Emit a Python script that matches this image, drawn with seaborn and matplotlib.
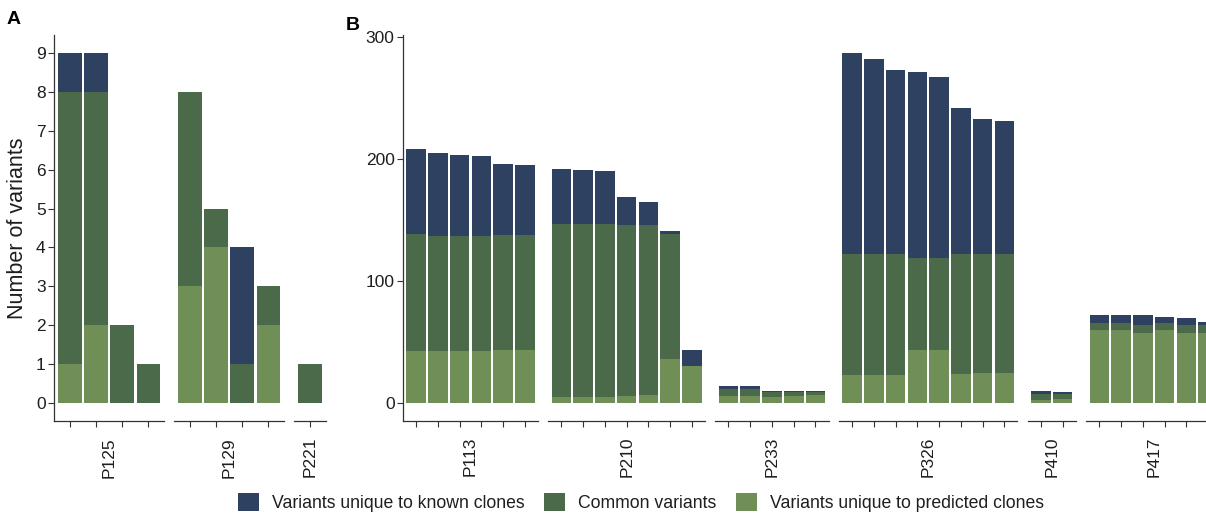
import numpy as np
import matplotlib
matplotlib.use("Agg")
import matplotlib.pyplot as plt
from matplotlib.patches import Patch
from matplotlib import font_manager
import seaborn as sns

# ---- data -------------------------------------------------------------
series_labels = ["Variants unique to known clones", "Common variants",
                 "Variants unique to predicted clones"]

a_patients = ["P125", "P129", "P221"]
a_predicted = [[1, 2, 0, 0], [3, 4, 0, 2], [0]]
a_common = [[7, 6, 2, 1], [5, 1, 1, 1], [1]]
a_known = [[1, 1, 0, 0], [0, 0, 3, 0], [0]]
a_yticks = list(range(0, 10))

b_patients = ["P113", "P210", "P233", "P326", "P410", "P417"]
b_predicted = [[43, 43, 43, 43, 44, 44], [5, 5, 5, 6, 7, 36, 31], [6, 6, 5, 6, 7],
               [23, 23, 23, 44, 44, 24, 25, 25], [3, 4], [60, 60, 58, 60, 58, 58]]
b_common = [[96, 94, 94, 94, 94, 94], [142, 142, 142, 140, 139, 103, 0], [6, 6, 4, 3, 2],
            [99, 99, 99, 75, 75, 98, 97, 97], [5, 4], [6, 6, 6, 6, 6, 6]]
b_known = [[69, 68, 66, 65, 58, 57], [45, 44, 43, 23, 19, 2, 13], [2, 2, 1, 1, 1],
           [165, 160, 151, 152, 148, 120, 111, 109], [2, 1], [6, 6, 8, 5, 6, 3]]
b_yticks = [0, 100, 200, 300]

# ---- style ------------------------------------------------------------
C_KNOWN = "#2E4160"
C_COMMON = "#4A6A4A"
C_PRED = "#708F57"
AXIS_C = "#333333"
TEXT_C = "#1E1E1E"

sns.set_theme(style="white")


def pick_font(names, default):
    avail = {f.name for f in font_manager.fontManager.ttflist}
    for n in names:
        if n in avail:
            return n
    return default


BODY = pick_font(["Liberation Sans", "Arimo", "Arial"], "DejaVu Sans")
NARROW = pick_font(["Liberation Sans Narrow", "Arial Narrow"], None)
plt.rcParams["font.family"] = [BODY, "DejaVu Sans"]
if NARROW is None:
    NARROW = BODY
    legend_size, strip_size = 12.7, 12.5
else:
    legend_size, strip_size = 15.4, 14.4

W, H = 1206, 514
fig = plt.figure(figsize=(W / 100, H / 100), dpi=100)

TOP_PX, BOT_PX = 35, 421


def px_rect(x0, width):
    return [x0 / W, (H - BOT_PX) / H, width / W, (BOT_PX - TOP_PX) / H]


def draw_facet(ax, name, pred, common, known, ylim, yticks, first):
    pred = np.asarray(pred)
    common = np.asarray(common)
    known = np.asarray(known)
    n = len(pred)
    idx = np.arange(n)
    # stacked bars drawn as overlaid cumulative heights
    for vals, col in [(pred + common + known, C_KNOWN),
                      (pred + common, C_COMMON),
                      (pred, C_PRED)]:
        sns.barplot(x=idx, y=vals, ax=ax, color=col, width=0.9, saturation=1,
                    linewidth=0, errorbar=None)
    ax.set_xlim(-0.6, n - 0.4)
    ax.set_ylim(*ylim)
    ax.set_xticks(idx)
    ax.set_xticklabels([])
    ax.set_xlabel("")
    ax.set_ylabel("")
    ax.set_facecolor("none")
    for s in ["top", "right"]:
        ax.spines[s].set_visible(False)
    ax.spines["bottom"].set_color(AXIS_C)
    ax.spines["bottom"].set_linewidth(0.9)
    ax.tick_params(axis="x", which="both", bottom=True, length=4, width=0.8,
                   color=AXIS_C, direction="out")
    if first:
        ax.spines["left"].set_color(AXIS_C)
        ax.spines["left"].set_linewidth(0.9)
        ax.set_yticks(yticks)
        ax.set_yticklabels([str(t) for t in yticks])
        ax.tick_params(axis="y", left=True, length=4, width=0.8, color=AXIS_C,
                       direction="out", labelsize=12.5, labelcolor=TEXT_C, pad=2)
    else:
        ax.spines["left"].set_visible(False)
        ax.set_yticks([])
    ax.annotate(name, xy=(0.5, 0), xycoords="axes fraction", xytext=(0, -11.5),
                textcoords="offset points", rotation=90, ha="center", va="top",
                fontsize=strip_size, color=TEXT_C, family=[NARROW, "DejaVu Sans"])


def draw_panel(x0, unit, gap, patients, preds, commons, knowns, yticks):
    totals = [np.add(np.add(p, c), k) for p, c, k in zip(preds, commons, knowns)]
    ymax = max(max(t) for t in totals)
    ylim = (-0.05 * ymax, ymax * 1.05)
    axes = []
    x = x0
    for i, name in enumerate(patients):
        width = (len(preds[i]) + 0.2) * unit
        ax = fig.add_axes(px_rect(x, width))
        draw_facet(ax, name, preds[i], commons[i], knowns[i], ylim, yticks, i == 0)
        axes.append(ax)
        x += width + gap
    return axes


axes_a = draw_panel(54, 26.2, 10, a_patients, a_predicted, a_common, a_known, a_yticks)
axes_b = draw_panel(403, 21.75, 10.5, b_patients, b_predicted, b_common, b_known, b_yticks)

axes_a[0].set_ylabel("Number of variants", fontsize=15.5, color=TEXT_C, labelpad=6)

fig.text(7 / W, 1 - 20 / H, "A", fontsize=14, fontweight="bold", color="black",
         ha="left", va="center")
fig.text(346 / W, 1 - 25 / H, "B", fontsize=14, fontweight="bold", color="black",
         ha="left", va="center")

# legend
em = legend_size * 100 / 72
handles = [Patch(facecolor=c, edgecolor="none") for c in (C_KNOWN, C_COMMON, C_PRED)]
fig.legend(handles, series_labels, loc="center", bbox_to_anchor=(641 / W, (H - 502.5) / H),
           ncol=3, frameon=False, handlelength=21 / em, handleheight=21 / em,
           handletextpad=13 / em, columnspacing=20 / em, borderpad=0, borderaxespad=0,
           prop={"family": [NARROW, "DejaVu Sans"], "size": legend_size},
           labelcolor=TEXT_C)

fig.savefig("out.png", dpi=100, facecolor="white")
